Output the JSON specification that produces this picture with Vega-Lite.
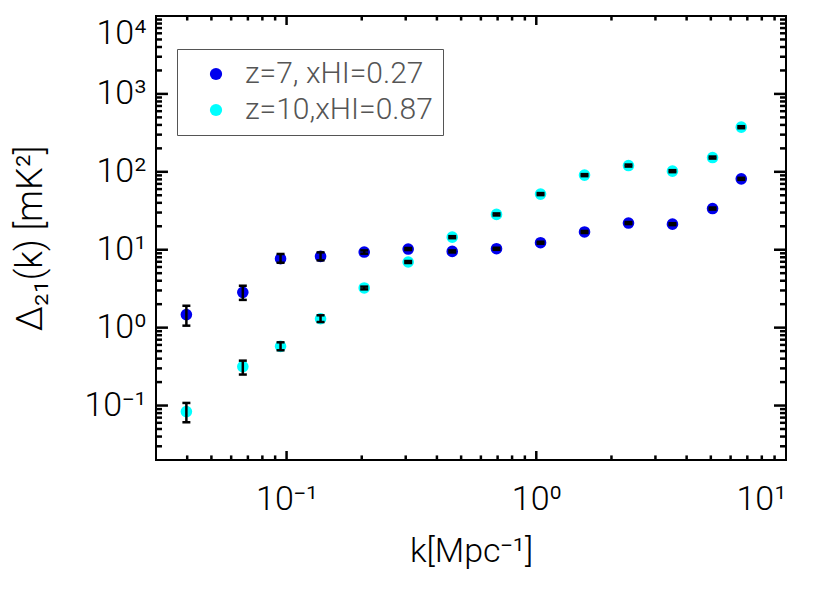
{
  "$schema": "https://vega.github.io/schema/vega-lite/v6.json",
  "width": 630,
  "height": 444,
  "autosize": "none",
  "padding": {"left": 156, "top": 16, "right": 45, "bottom": 131},
  "background": "white",
  "datasets": {
    "pk": [
      {"k": 0.0397, "p": 1.47, "lo": 1.06, "hi": 1.91, "series": "z=7,  xHI=0.27"},
      {"k": 0.0668, "p": 2.84, "lo": 2.27, "hi": 3.45, "series": "z=7,  xHI=0.27"},
      {"k": 0.0946, "p": 7.67, "lo": 6.81, "hi": 8.82, "series": "z=7,  xHI=0.27"},
      {"k": 0.1368, "p": 8.21, "lo": 7.3, "hi": 9.25, "series": "z=7,  xHI=0.27"},
      {"k": 0.2046, "p": 9.34, "lo": 8.9, "hi": 9.8, "series": "z=7,  xHI=0.27"},
      {"k": 0.3069, "p": 10.2, "lo": 9.9, "hi": 10.5, "series": "z=7,  xHI=0.27"},
      {"k": 0.4607, "p": 9.51, "lo": 9.23, "hi": 9.8, "series": "z=7,  xHI=0.27"},
      {"k": 0.693, "p": 10.3, "lo": 10.0, "hi": 10.6, "series": "z=7,  xHI=0.27"},
      {"k": 1.04, "p": 12.3, "lo": 11.95, "hi": 12.65, "series": "z=7,  xHI=0.27"},
      {"k": 1.56, "p": 16.9, "lo": 16.4, "hi": 17.4, "series": "z=7,  xHI=0.27"},
      {"k": 2.34, "p": 22.0, "lo": 21.35, "hi": 22.65, "series": "z=7,  xHI=0.27"},
      {"k": 3.51, "p": 21.3, "lo": 20.7, "hi": 21.9, "series": "z=7,  xHI=0.27"},
      {"k": 5.08, "p": 33.8, "lo": 32.8, "hi": 34.8, "series": "z=7,  xHI=0.27"},
      {"k": 6.62, "p": 81.3, "lo": 78.9, "hi": 83.7, "series": "z=7,  xHI=0.27"},
      {"k": 0.0397, "p": 0.0838, "lo": 0.061, "hi": 0.108, "series": "z=10,xHI=0.87"},
      {"k": 0.0668, "p": 0.316, "lo": 0.25, "hi": 0.377, "series": "z=10,xHI=0.87"},
      {"k": 0.0946, "p": 0.575, "lo": 0.512, "hi": 0.648, "series": "z=10,xHI=0.87"},
      {"k": 0.1368, "p": 1.3, "lo": 1.18, "hi": 1.44, "series": "z=10,xHI=0.87"},
      {"k": 0.2046, "p": 3.23, "lo": 3.1, "hi": 3.36, "series": "z=10,xHI=0.87"},
      {"k": 0.3069, "p": 6.96, "lo": 6.75, "hi": 7.17, "series": "z=10,xHI=0.87"},
      {"k": 0.4607, "p": 14.5, "lo": 14.07, "hi": 14.93, "series": "z=10,xHI=0.87"},
      {"k": 0.693, "p": 28.4, "lo": 27.55, "hi": 29.25, "series": "z=10,xHI=0.87"},
      {"k": 1.04, "p": 51.8, "lo": 50.25, "hi": 53.35, "series": "z=10,xHI=0.87"},
      {"k": 1.56, "p": 90.7, "lo": 88.0, "hi": 93.4, "series": "z=10,xHI=0.87"},
      {"k": 2.34, "p": 120.4, "lo": 116.8, "hi": 124.0, "series": "z=10,xHI=0.87"},
      {"k": 3.51, "p": 102, "lo": 99, "hi": 105, "series": "z=10,xHI=0.87"},
      {"k": 5.08, "p": 152.5, "lo": 148, "hi": 157, "series": "z=10,xHI=0.87"},
      {"k": 6.62, "p": 374, "lo": 363, "hi": 385, "series": "z=10,xHI=0.87"}
    ],
    "xmajor": [{"v": 0.1}, {"v": 1}],
    "xminor": [{"v": 0.04}, {"v": 0.05}, {"v": 0.06}, {"v": 0.07}, {"v": 0.08}, {"v": 0.09},
               {"v": 0.2}, {"v": 0.3}, {"v": 0.4}, {"v": 0.5}, {"v": 0.6}, {"v": 0.7}, {"v": 0.8}, {"v": 0.9},
               {"v": 2}, {"v": 3}, {"v": 4}, {"v": 5}, {"v": 6}, {"v": 7}, {"v": 8}, {"v": 9}],
    "ymajor": [{"v": 0.1}, {"v": 1}, {"v": 10}, {"v": 100}, {"v": 1000}],
    "yminor": [{"v": 0.03}, {"v": 0.04}, {"v": 0.05}, {"v": 0.06}, {"v": 0.07}, {"v": 0.08}, {"v": 0.09},
               {"v": 0.2}, {"v": 0.3}, {"v": 0.4}, {"v": 0.5}, {"v": 0.6}, {"v": 0.7}, {"v": 0.8}, {"v": 0.9},
               {"v": 2}, {"v": 3}, {"v": 4}, {"v": 5}, {"v": 6}, {"v": 7}, {"v": 8}, {"v": 9},
               {"v": 20}, {"v": 30}, {"v": 40}, {"v": 50}, {"v": 60}, {"v": 70}, {"v": 80}, {"v": 90},
               {"v": 200}, {"v": 300}, {"v": 400}, {"v": 500}, {"v": 600}, {"v": 700}, {"v": 800}, {"v": 900},
               {"v": 2000}, {"v": 3000}, {"v": 4000}, {"v": 5000}, {"v": 6000}, {"v": 7000}, {"v": 8000}, {"v": 9000}]
  },
  "layer": [
    {
      "data": {"name": "pk"},
      "mark": {"type": "point", "filled": true, "size": 135, "opacity": 1, "strokeWidth": 0},
      "encoding": {
        "x": {"field": "k", "type": "quantitative",
              "scale": {"type": "log", "domain": [0.03, 10], "nice": false, "zero": false},
              "axis": {"orient": "bottom", "values": [0.1, 1, 10],
                       "labelExpr": "datum.value < 0.5 ? '10⁻¹' : datum.value < 5 ? '10⁰' : '10¹'",
                       "title": "k[Mpc⁻¹]", "ticks": false, "domain": false, "grid": false,
                       "labelPadding": 22, "titlePadding": 18}},
        "y": {"field": "p", "type": "quantitative",
              "scale": {"type": "log", "domain": [0.02, 10000], "nice": false, "zero": false},
              "axis": {"orient": "left", "values": [0.1, 1, 10, 100, 1000, 10000],
                       "labelExpr": "datum.value < 0.5 ? '10⁻¹' : datum.value < 5 ? '10⁰' : datum.value < 50 ? '10¹' : datum.value < 500 ? '10²' : datum.value < 5000 ? '10³' : '10⁴'",
                       "title": "Δ₂₁(k)  [mK²]", "ticks": false, "domain": false, "grid": false,
                       "labelPadding": 10, "labelFlush": true, "titlePadding": 34, "titleFontSize": 36}},
        "color": {"field": "series", "type": "nominal",
                  "scale": {"domain": ["z=7,  xHI=0.27", "z=10,xHI=0.87"], "range": ["#0000ee", "#00ffff"]},
                  "legend": {"title": null, "orient": "none", "legendX": 21, "legendY": 33,
                             "strokeColor": "#555555", "padding": 10, "labelFontSize": 30, "labelLimit": 500,
                             "labelFont": "Roboto", "labelFontWeight": 300, "labelColor": "#555555",
                             "symbolSize": 150, "symbolType": "circle", "symbolStrokeWidth": 0,
                             "rowPadding": 6, "labelOffset": 14, "symbolOffset": 14, "fillColor": "white"}}
      }
    },
    {
      "data": {"name": "pk"},
      "mark": {"type": "rule", "color": "black", "strokeWidth": 2.5},
      "encoding": {
        "x": {"field": "k", "type": "quantitative"},
        "y": {"field": "lo", "type": "quantitative"},
        "y2": {"field": "hi"}
      }
    },
    {
      "data": {"name": "pk"},
      "mark": {"type": "tick", "color": "black", "thickness": 2.5, "size": 8, "orient": "horizontal", "opacity": 1},
      "encoding": {
        "x": {"field": "k", "type": "quantitative"},
        "y": {"field": "lo", "type": "quantitative"}
      }
    },
    {
      "data": {"name": "pk"},
      "mark": {"type": "tick", "color": "black", "thickness": 2.5, "size": 8, "orient": "horizontal", "opacity": 1},
      "encoding": {
        "x": {"field": "k", "type": "quantitative"},
        "y": {"field": "hi", "type": "quantitative"}
      }
    },
    {
      "data": {"name": "xmajor"},
      "mark": {"type": "rule", "color": "black", "strokeWidth": 2.5},
      "encoding": {"x": {"field": "v", "type": "quantitative"}, "y": {"datum": 0.02, "type": "quantitative"}, "y2": {"datum": 0.0261}}
    },
    {
      "data": {"name": "xminor"},
      "mark": {"type": "rule", "color": "black", "strokeWidth": 2.5},
      "encoding": {"x": {"field": "v", "type": "quantitative"}, "y": {"datum": 0.02, "type": "quantitative"}, "y2": {"datum": 0.0229}}
    },
    {
      "data": {"name": "xmajor"},
      "mark": {"type": "rule", "color": "black", "strokeWidth": 2.5},
      "encoding": {"x": {"field": "v", "type": "quantitative"}, "y": {"datum": 10000, "type": "quantitative"}, "y2": {"datum": 7660}}
    },
    {
      "data": {"name": "xminor"},
      "mark": {"type": "rule", "color": "black", "strokeWidth": 2.5},
      "encoding": {"x": {"field": "v", "type": "quantitative"}, "y": {"datum": 10000, "type": "quantitative"}, "y2": {"datum": 8750}}
    },
    {
      "data": {"name": "ymajor"},
      "mark": {"type": "rule", "color": "black", "strokeWidth": 2.5},
      "encoding": {"y": {"field": "v", "type": "quantitative"}, "x": {"datum": 0.03, "type": "quantitative"}, "x2": {"datum": 0.0335}}
    },
    {
      "data": {"name": "yminor"},
      "mark": {"type": "rule", "color": "black", "strokeWidth": 2.5},
      "encoding": {"y": {"field": "v", "type": "quantitative"}, "x": {"datum": 0.03, "type": "quantitative"}, "x2": {"datum": 0.0317}}
    },
    {
      "data": {"name": "ymajor"},
      "mark": {"type": "rule", "color": "black", "strokeWidth": 2.5},
      "encoding": {"y": {"field": "v", "type": "quantitative"}, "x": {"datum": 10, "type": "quantitative"}, "x2": {"datum": 8.95}}
    },
    {
      "data": {"name": "yminor"},
      "mark": {"type": "rule", "color": "black", "strokeWidth": 2.5},
      "encoding": {"y": {"field": "v", "type": "quantitative"}, "x": {"datum": 10, "type": "quantitative"}, "x2": {"datum": 9.46}}
    }
  ],
  "config": {
    "view": {"stroke": "black", "strokeWidth": 2, "fill": null},
    "axis": {"labelFont": "Roboto", "labelFontWeight": 300, "labelFontSize": 34, "labelColor": "black",
             "titleFont": "Roboto", "titleFontWeight": 300, "titleFontSize": 34, "titleColor": "black"}
  }
}
